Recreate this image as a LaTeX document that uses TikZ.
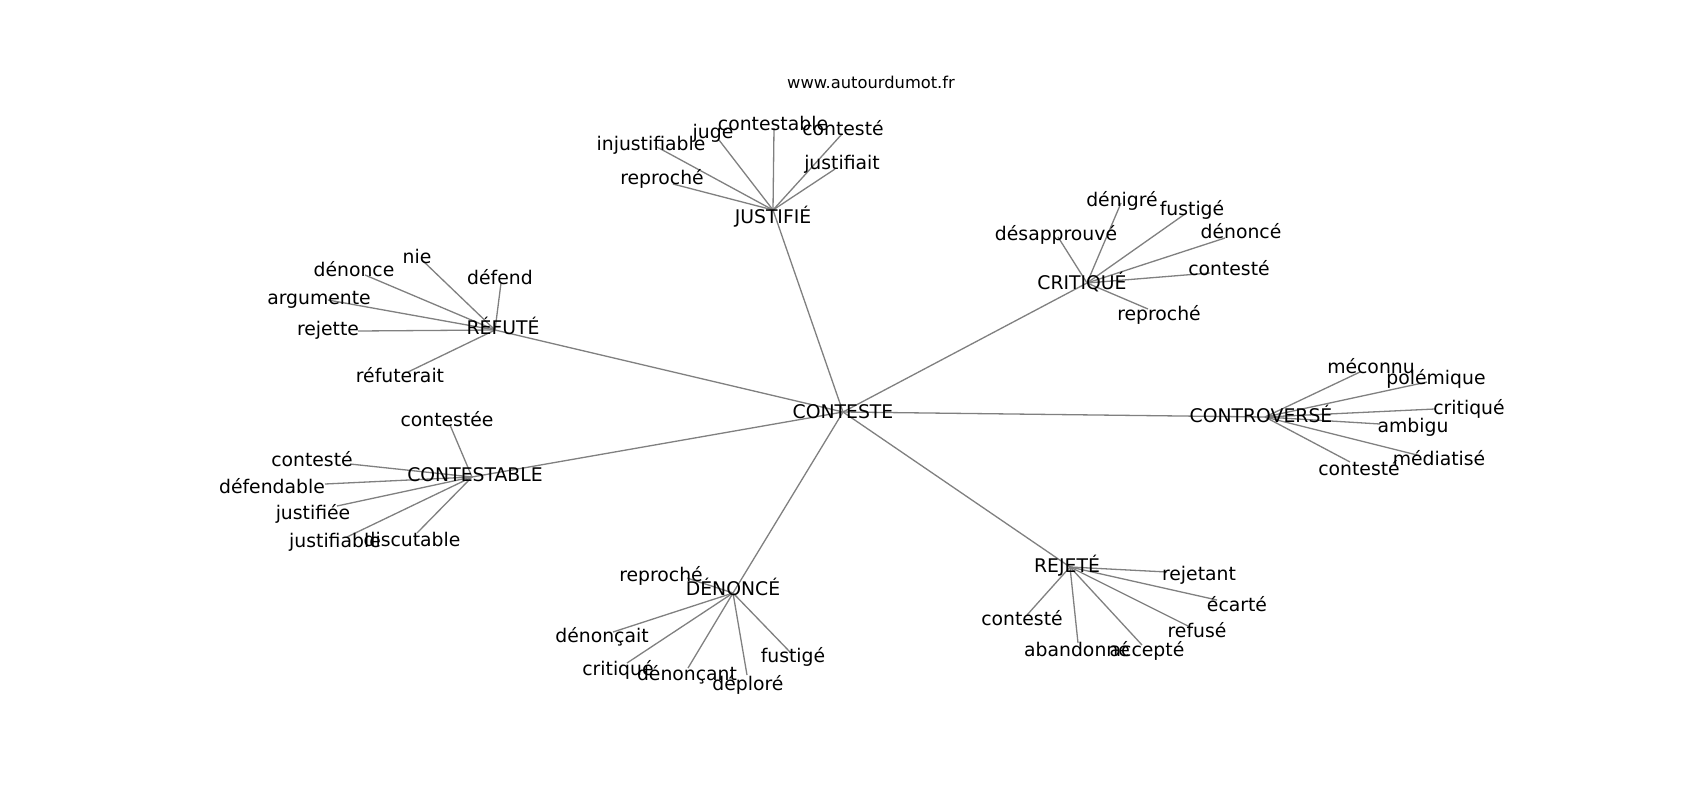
\documentclass[tikz,border=0pt]{standalone}
\usepackage{fontspec}
\setmainfont{DejaVu Sans}
\pgfdeclarelayer{background}
\pgfsetlayers{background,main}
\definecolor{edgegray}{RGB}{128,128,128}
\tikzset{
  lbl/.style={inner sep=0pt, anchor=center, text height=14.3pt, text depth=0pt,
    font=\fontsize{18.8}{22}\selectfont, text=black},
  ttl/.style={inner sep=0pt, anchor=center, font=\fontsize{16.3}{19}\selectfont, text=black},
  edge/.style={draw=edgegray, line width=1.3pt}
}
% #1 hub coordinate, #2 id, #3 node position, #4 text position, #5 text
\newcommand{\leafnode}[5]{%
  \coordinate (#2) at (#3);
  \node[lbl] (t-#2) at (#4) {#5};
  \begin{pgfonlayer}{background}\draw[edge] (#1) -- (#2);\end{pgfonlayer}
}
\begin{document}
\begin{tikzpicture}[x=1pt,y=-1pt]
\useasboundingbox (0,0) rectangle (1700,800);
\begin{pgfonlayer}{background}
\fill[white] (0,0) rectangle (1700,800);
\end{pgfonlayer}

\node[ttl] (title) at (871,82) {www.autourdumot.fr};

% hubs
\coordinate (CONTESTE) at (843,412);
\node[lbl] (t-CONTESTE) at (843,411) {CONTESTE};
\coordinate (JUSTIFIE) at (773,210);
\node[lbl] (t-JUSTIFIE) at (773,216) {JUSTIFIÉ};
\coordinate (REFUTE) at (495,330);
\node[lbl] (t-REFUTE) at (503,327) {RÉFUTÉ};
\coordinate (CONTESTABLE) at (472,477);
\node[lbl] (t-CONTESTABLE) at (475,474) {CONTESTABLE};
\coordinate (CRITIQUE) at (1087,283);
\node[lbl] (t-CRITIQUE) at (1082,282) {CRITIQUÉ};
\coordinate (CONTROVERSE) at (1265,417);
\node[lbl] (t-CONTROVERSE) at (1261,415) {CONTROVERSÉ};
\coordinate (DENONCE) at (733,593);
\node[lbl] (t-DENONCE) at (733,588) {DÉNONCÉ};
\coordinate (REJETE) at (1070,567);
\node[lbl] (t-REJETE) at (1067,565) {REJETÉ};

\begin{pgfonlayer}{background}
\draw[edge] (CONTESTE) -- (JUSTIFIE);
\draw[edge] (CONTESTE) -- (REFUTE);
\draw[edge] (CONTESTE) -- (CONTESTABLE);
\draw[edge] (CONTESTE) -- (CRITIQUE);
\draw[edge] (CONTESTE) -- (CONTROVERSE);
\draw[edge] (CONTESTE) -- (DENONCE);
\draw[edge] (CONTESTE) -- (REJETE);
\end{pgfonlayer}

% JUSTIFIE
\leafnode{JUSTIFIE}{j1}{657,147}{651,143}{injustifiable}
\leafnode{JUSTIFIE}{j2}{719,140}{713,131}{juge}
\leafnode{JUSTIFIE}{j3}{774,128}{773,123}{contestable}
\leafnode{JUSTIFIE}{j4}{842,134}{843,128}{contesté}
\leafnode{JUSTIFIE}{j5}{835,169}{842,162}{justifiait}
\leafnode{JUSTIFIE}{j6}{673,184}{662,177}{reproché}

% REFUTE
\leafnode{REFUTE}{r1}{422,260}{417,256}{nie}
\leafnode{REFUTE}{r2}{365,275}{354,269}{dénonce}
\leafnode{REFUTE}{r3}{328,300}{319,297}{argumente}
\leafnode{REFUTE}{r4}{501,283}{500,277}{défend}
\leafnode{REFUTE}{r5}{358,331}{328,328}{rejette}
\leafnode{REFUTE}{r6}{408,372}{400,375}{réfuterait}

% CONTESTABLE
\leafnode{CONTESTABLE}{c1}{450,425}{447,419}{contestée}
\leafnode{CONTESTABLE}{c2}{350,464}{312,459}{contesté}
\leafnode{CONTESTABLE}{c3}{325,484}{272,486}{défendable}
\leafnode{CONTESTABLE}{c4}{337,506}{313,512}{justifiée}
\leafnode{CONTESTABLE}{c5}{347,537}{335,540}{justifiable}
\leafnode{CONTESTABLE}{c6}{417,533}{412,539}{discutable}

% CRITIQUE
\leafnode{CRITIQUE}{k1}{1121,203}{1122,199}{dénigré}
\leafnode{CRITIQUE}{k2}{1185,214}{1192,208}{fustigé}
\leafnode{CRITIQUE}{k3}{1058,237}{1056,233}{désapprouvé}
\leafnode{CRITIQUE}{k4}{1225,238}{1241,231}{dénoncé}
\leafnode{CRITIQUE}{k5}{1210,273}{1229,268}{contesté}
\leafnode{CRITIQUE}{k6}{1148,309}{1159,313}{reproché}

% CONTROVERSE
\leafnode{CONTROVERSE}{v1}{1360,372}{1371,366}{méconnu}
\leafnode{CONTROVERSE}{v2}{1427,382}{1436,377}{polémique}
\leafnode{CONTROVERSE}{v3}{1435,409}{1469,407}{critiqué}
\leafnode{CONTROVERSE}{v4}{1380,424}{1413,425}{ambigu}
\leafnode{CONTROVERSE}{v5}{1417,455}{1439,458}{médiatisé}
\leafnode{CONTROVERSE}{v6}{1350,462}{1359,468}{contesté}

% DENONCE
\leafnode{DENONCE}{d1}{687,578}{661,574}{reproché}
\leafnode{DENONCE}{d2}{613,632}{602,635}{dénonçait}
\leafnode{DENONCE}{d3}{627,663}{618,668}{critiqué}
\leafnode{DENONCE}{d4}{688,668}{687,673}{dénonçant}
\leafnode{DENONCE}{d5}{747,675}{748,683}{déploré}
\leafnode{DENONCE}{d6}{790,652}{793,655}{fustigé}

% REJETE
\leafnode{REJETE}{e1}{1167,572}{1199,573}{rejetant}
\leafnode{REJETE}{e2}{1217,600}{1237,604}{écarté}
\leafnode{REJETE}{e3}{1190,627}{1197,630}{refusé}
\leafnode{REJETE}{e4}{1027,615}{1022,618}{contesté}
\leafnode{REJETE}{e5}{1078,643}{1077,649}{abandonné}
\leafnode{REJETE}{e6}{1142,645}{1147,649}{accepté}
\end{tikzpicture}
\end{document}
